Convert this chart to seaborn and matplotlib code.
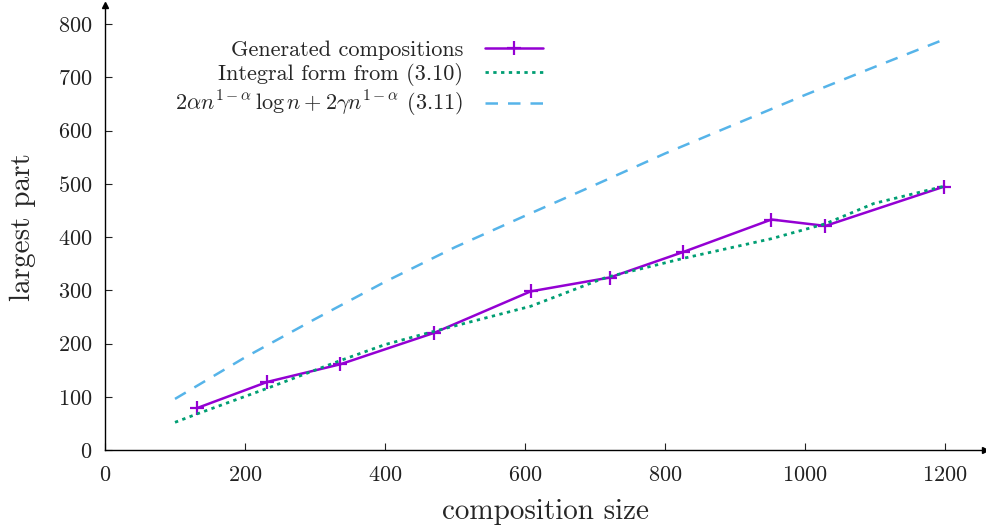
import matplotlib
matplotlib.use("Agg")
import matplotlib.pyplot as plt
import seaborn as sns
import pandas as pd

# values
gen_n = [132, 232, 336, 470, 608, 721, 826, 952, 1029, 1199]
gen_part = [79, 128, 161, 220, 298, 324, 372, 433, 421, 495]

integral_n = [100, 132, 232, 336, 400, 470, 608, 707, 721, 826, 952, 1029, 1098, 1200]
integral_part = [52, 68, 116, 168, 198, 223, 270, 320, 326, 360, 397, 425, 463, 496]

asym_n = [100, 200, 300, 400, 500, 600, 700, 800, 900, 1000, 1100, 1200]
asym_part = [96, 174, 246, 316, 381, 440, 498, 557, 612, 667, 720, 772]

x_ticks = [0, 200, 400, 600, 800, 1000, 1200]
y_ticks = [0, 100, 200, 300, 400, 500, 600, 700, 800]

labels = ["Generated compositions",
          "Integral form from (3.10)",
          r"$2\alpha n^{1-\alpha}\,\log n + 2\gamma n^{1-\alpha}$ (3.11)"]

sns.set_style("ticks")
plt.rcParams["font.family"] = ["cmr10", "DejaVu Serif"]
plt.rcParams["mathtext.fontset"] = "cm"
plt.rcParams["axes.formatter.use_mathtext"] = True

fig = plt.figure(figsize=(9.87, 5.25), dpi=100)
ax = fig.add_axes([105 / 987, 75 / 525, 880 / 987, 445 / 525])

gen = pd.DataFrame({"n": gen_n, "part": gen_part})
integ = pd.DataFrame({"n": integral_n, "part": integral_part})
asym = pd.DataFrame({"n": asym_n, "part": asym_part})

sns.lineplot(data=gen, x="n", y="part", ax=ax, color="#9400D3", lw=1.8,
             marker="+", markersize=10, markeredgewidth=1.6,
             markeredgecolor="#9400D3", label=labels[0])
sns.lineplot(data=integ, x="n", y="part", ax=ax, color="#009E73", lw=2,
             linestyle=(0, (1.2, 1.6)), label=labels[1])
sns.lineplot(data=asym, x="n", y="part", ax=ax, color="#56B4E9", lw=1.8,
             linestyle=(0, (5, 4)), label=labels[2])

ax.set_xlim(0, 1257)
ax.set_ylim(0, 836)
ax.set_xticks(x_ticks)
ax.set_yticks(y_ticks)
ax.tick_params(direction="in", length=5, width=0.8, labelsize=16, colors="#222222")
ax.tick_params(axis="x", pad=11)
ax.tick_params(axis="y", pad=9)
for s in ["top", "right"]:
    ax.spines[s].set_visible(False)
for s in ["left", "bottom"]:
    ax.spines[s].set_linewidth(1.0)
    ax.spines[s].set_color("black")

# arrow heads on the axes
ax.plot(1, 0, ">k", markersize=5, transform=ax.get_yaxis_transform(), clip_on=False)
ax.plot(0, 1, "^k", markersize=5, transform=ax.get_xaxis_transform(), clip_on=False)

ax.set_xlabel("composition size", fontsize=21, labelpad=10)
ax.set_ylabel("largest part", fontsize=21, labelpad=16)

ax.legend(loc="upper right", bbox_to_anchor=(543 / 987, 1 - 40 / 525),
          bbox_transform=fig.transFigure, frameon=False, markerfirst=False,
          fontsize=16, handlelength=2.6, handletextpad=1.0, labelspacing=0.15,
          borderpad=0, borderaxespad=0)

fig.savefig("out.png", dpi=100)
